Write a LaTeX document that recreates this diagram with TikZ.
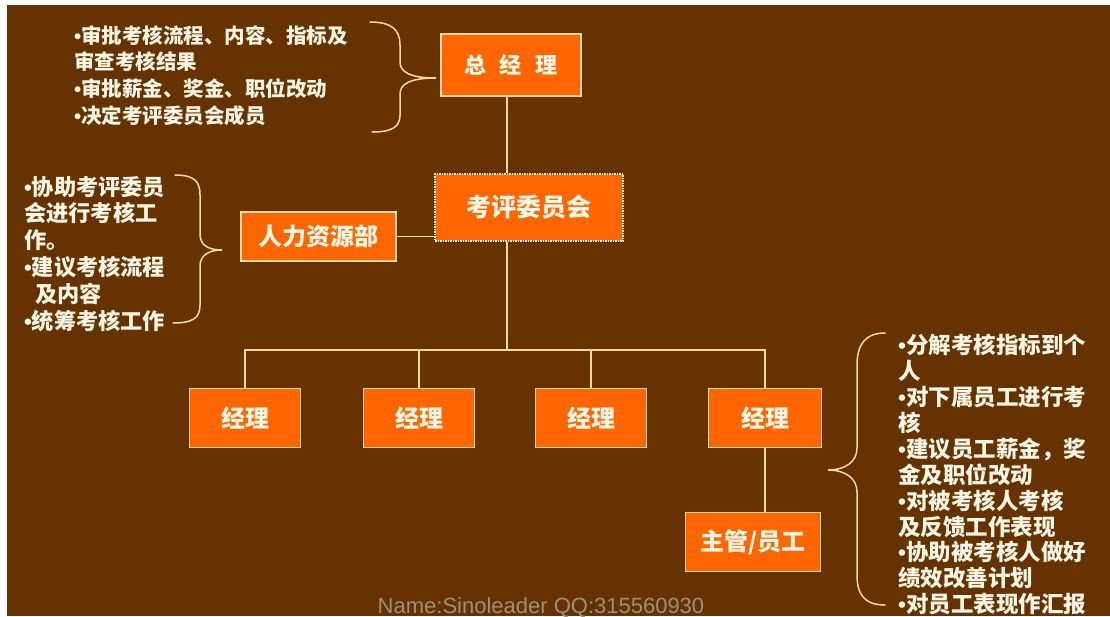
\documentclass[tikz,border=0pt]{standalone}
\usepackage{fontspec}
\setmainfont{Liberation Sans}
\newfontfamily\cjk{Noto Sans CJK SC}
\newfontfamily\latin{Liberation Sans}
\newcommand\bul{{\latin\bfseries •}}
\definecolor{bg}{HTML}{663300}
\definecolor{org}{HTML}{FF6600}
\definecolor{edge}{HTML}{FFD8A8}
\definecolor{txt}{HTML}{FFF6E6}
\definecolor{wm}{HTML}{9C8E80}
\tikzset{
  box/.style={draw=edge, line width=1.5pt, fill=org, text=txt, inner sep=0pt,
    font=\cjk\bfseries\fontsize{24}{24}\selectfont},
  conn/.style={draw=edge, line width=1.5pt},
  brace/.style={draw=edge, line width=1.5pt, line cap=round},
  note/.style={text=txt, inner sep=0pt, anchor=north west, align=left}
}
\begin{document}
\begin{tikzpicture}[x=1pt,y=-1pt]
\useasboundingbox (0,0) rectangle (1110,616);
\clip (0,0) rectangle (1110,616);
\fill[white] (0,0) rectangle (1110,616);
\fill[bg] (7,5) rectangle (1110,616);

% boxes
\node[box, minimum width=140pt, minimum height=62pt, font=\cjk\bfseries\fontsize{22}{22}\selectfont] (zjl) at (511,65) {总\hspace{14pt}经\hspace{14pt}理};
\node[box, minimum width=188pt, minimum height=67pt, dash pattern=on 1.5pt off 1pt, draw=txt, font=\cjk\bfseries\fontsize{25}{25}\selectfont] (kp) at (529,207.5) {考评委员会};
\node[box, minimum width=155pt, minimum height=49pt] (hr) at (318.5,236.5) {人力资源部};
\node[box, minimum width=111pt, minimum height=59pt] (m1) at (245,418) {经理};
\node[box, minimum width=111pt, minimum height=59pt] (m2) at (419,418) {经理};
\node[box, minimum width=111pt, minimum height=59pt] (m3) at (591,418) {经理};
\node[box, minimum width=113pt, minimum height=59pt] (m4) at (765,418) {经理};
\node[box, minimum width=135pt, minimum height=59pt] (zg) at (753,542) {主管/员工};

% connectors
\coordinate (spine) at (507,0);
\coordinate (bus) at (507,350);
\draw[conn] (zjl.south -| spine) -- (kp.north -| spine);
\draw[conn] (kp.south -| spine) -- (bus);
\draw[conn] (m1.north) |- (bus) -| (m4.north);
\draw[conn] (m2.north) -- (m2.north |- bus);
\draw[conn] (m3.north) -- (m3.north |- bus);
\draw[conn] (hr.east) -- (hr.east -| kp.west);
\draw[conn] (m4.south) -- (m4.south |- zg.north);

% braces
\coordinate (b1tip) at (436,78);
\draw[brace] (370,22) .. controls (392,22) and (400,30) .. (400,45) -- (400,62)
  .. controls (400,72) and (410,78) .. (b1tip)
  .. controls (410,78) and (400,84) .. (400,94) -- (400,115)
  .. controls (400,127) and (392,132) .. (372,132);
\coordinate (b2tip) at (222,250);
\draw[brace] (175,175) .. controls (195,175) and (200,182) .. (200,195) -- (200,234)
  .. controls (200,245) and (208,250) .. (b2tip)
  .. controls (208,250) and (200,256) .. (200,266) -- (200,305)
  .. controls (200,318) and (193,323) .. (173,323);
\coordinate (b3tip) at (828,470);
\draw[brace] (885,333) .. controls (865,333) and (857,345) .. (857,365) -- (857,448)
  .. controls (857,462) and (845,470) .. (b3tip)
  .. controls (845,470) and (857,478) .. (857,492) -- (857,575)
  .. controls (857,595) and (865,605) .. (885,605);

% notes
\node[note, font=\cjk\bfseries\fontsize{20.5}{26.7}\selectfont] (n1) at (74,25) {\bul{}审批考核流程、内容、指标及\\审查考核结果\\\bul{}审批薪金、奖金、职位改动\\\bul{}决定考评委员会成员};
\node[note, font=\cjk\bfseries\fontsize{22.2}{26.8}\selectfont] (n2) at (24,176) {\bul{}协助考评委员\\会进行考核工\\作。\\\bul{}建议考核流程\\\hspace{0.5em}及内容\\\bul{}统筹考核工作};
\node[note, font=\cjk\bfseries\fontsize{22.5}{25.9}\selectfont] (n3) at (898,334) {\bul{}分解考核指标到个\\人\\\bul{}对下属员工进行考\\核\\\bul{}建议员工薪金，奖\\金及职位改动\\\bul{}对被考核人考核\\及反馈工作表现\\\bul{}协助被考核人做好\\绩效改善计划\\\bul{}对员工表现作汇报};

% watermark
\node[text=wm, inner sep=0pt, anchor=base, font=\fontsize{22}{22}\selectfont] (wmk) at (541,613) {Name:Sinoleader QQ:315560930};
\end{tikzpicture}
\end{document}
